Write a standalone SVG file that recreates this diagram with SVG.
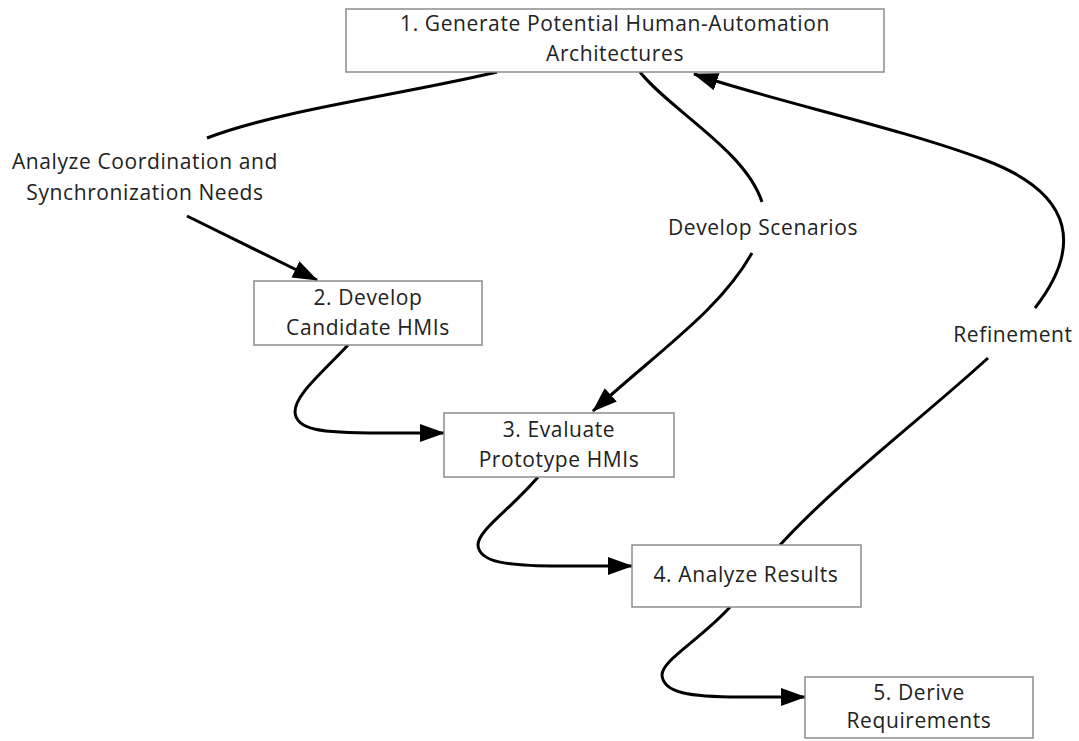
<svg xmlns="http://www.w3.org/2000/svg" width="1079" height="741" viewBox="0 0 1079 741">
<style>
.box{fill:#fff;stroke:#8c8c8c;stroke-width:1.5}
.t{font-family:"Open Sans","Noto Sans","Liberation Sans",sans-serif;font-size:21px;letter-spacing:0.6px;fill:#222;text-anchor:middle}
.c{fill:none;stroke:#000;stroke-width:3}
</style>
<defs>
<marker id="ah" markerWidth="26" markerHeight="20" refX="24" refY="9" orient="auto" markerUnits="userSpaceOnUse">
<path d="M0,0 L25,9 L0,18 z" fill="#000"/>
</marker>
</defs>
<rect width="1079" height="741" fill="#fff"/>
<g id="connectors">
<path class="c" d="M497,72 C400,95 280,110 207,138"/>
<path class="c" d="M187,216 L317,280" marker-end="url(#ah)"/>
<path class="c" d="M640,72 C670,110 745,150 762,202"/>
<path class="c" d="M752,253 C720,310 660,350 593,411" marker-end="url(#ah)"/>
<path class="c" d="M780,545 C840,480 920,420 988,358"/>
<path class="c" d="M1035,308 C1080,250 1078,195 985,160 C900,128 770,100 694,74" marker-end="url(#ah)"/>
<path class="c" d="M348,345 C320,375 295,395 295,412 C296,430 320,433 380,433 L444,433" marker-end="url(#ah)"/>
<path class="c" d="M538,477 C510,510 478,530 478,545 C479,562 505,566 560,566 L632,566" marker-end="url(#ah)"/>
<path class="c" d="M730,607 C700,640 662,660 662,675 C663,693 690,697 740,697 L805,697" marker-end="url(#ah)"/>
</g>
<g id="labels">
<text class="t" x="145" y="169">Analyze Coordination and</text>
<text class="t" x="145" y="200">Synchronization Needs</text>
<text class="t" x="763" y="235">Develop Scenarios</text>
<text class="t" x="1013" y="342">Refinement</text>
</g>
<g id="node1">
<rect class="box" x="346" y="9" width="538" height="63"/>
<text class="t" x="615" y="31">1. Generate Potential Human-Automation</text>
<text class="t" x="615" y="61">Architectures</text>
</g>
<g id="node2">
<rect class="box" x="254" y="281" width="228" height="64"/>
<text class="t" x="368" y="305">2. Develop</text>
<text class="t" x="368" y="335">Candidate HMIs</text>
</g>
<g id="node3">
<rect class="box" x="444" y="413" width="230" height="64"/>
<text class="t" x="559" y="437">3. Evaluate</text>
<text class="t" x="559" y="467">Prototype HMIs</text>
</g>
<g id="node4">
<rect class="box" x="632" y="545" width="229" height="62"/>
<text class="t" x="746" y="582">4. Analyze Results</text>
</g>
<g id="node5">
<rect class="box" x="805" y="677" width="228" height="61"/>
<text class="t" x="919" y="700">5. Derive</text>
<text class="t" x="919" y="728">Requirements</text>
</g>
</svg>
